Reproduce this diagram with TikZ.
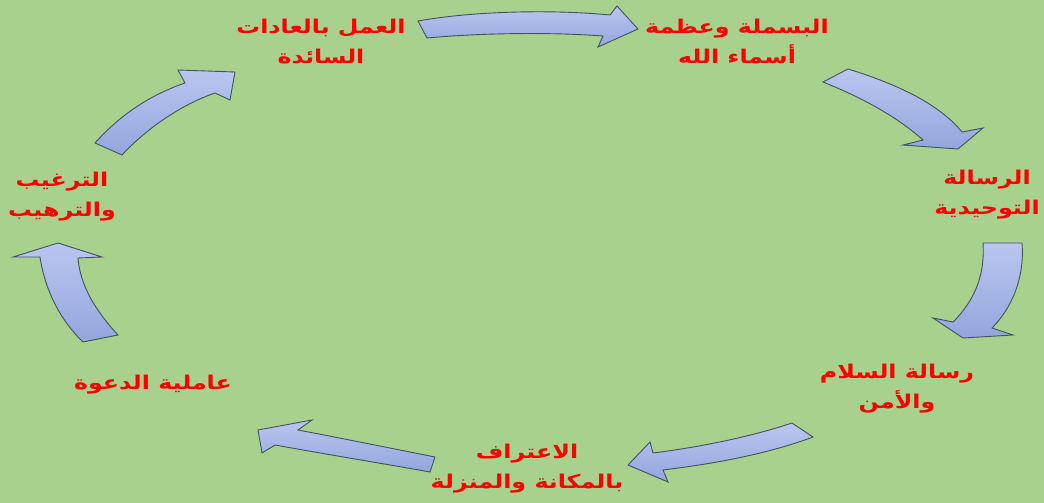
\documentclass[tikz,border=0pt]{standalone}
\usepackage{fontspec}
\newfontfamily\arabicfont[Script=Arabic,FakeStretch=1.25]{DejaVu Sans}
\TeXXeTstate=1
\newcommand{\artxt}[1]{\beginR #1\endR}
\definecolor{bggreen}{HTML}{A9D18E}
\definecolor{arrtop}{HTML}{B9C6EF}
\definecolor{arrbot}{HTML}{93A6DD}
\definecolor{arredge}{HTML}{46505E}
\tikzset{
  blockarrow/.style={draw=arredge, line width=0.9pt, line join=miter, top color=arrtop, bottom color=arrbot},
  lbl/.style={text=red, align=center, font=\arabicfont\bfseries\fontsize{19}{30}\selectfont, inner sep=0pt}
}
\begin{document}
\begin{tikzpicture}[x=1pt,y=-1pt]
\fill[bggreen] (0,0) rectangle (1044,503);
\useasboundingbox (0,0) rectangle (1044,503);
% arrows
\path[blockarrow] (418,21) .. controls (480,10) and (560,10) .. (610,15) -- (617,6) -- (638,29) -- (598,47) -- (603,36) .. controls (550,32) and (480,33) .. (427,38) -- cycle;
\path[blockarrow] (848,69) .. controls (900,85) and (940,105) .. (962,132) -- (983,128) -- (958,149) -- (903,145) -- (923,140) .. controls (895,115) and (860,97) .. (823,82) -- cycle;
\path[blockarrow] (983,243) -- (1022,243) .. controls (1025,280) and (1010,310) .. (992,328) -- (1013,335) -- (963,338) -- (933,318) -- (953,322) .. controls (975,300) and (985,275) .. (983,243) -- cycle;
\path[blockarrow] (792,423) .. controls (750,437) and (700,447) .. (653,453) -- (650,442) -- (628,465) -- (668,482) -- (663,470) .. controls (720,463) and (770,453) .. (813,437) -- cycle;
\path[blockarrow] (435,457) .. controls (390,448) and (340,438) .. (298,430) -- (312,420) -- (258,430) -- (262,453) -- (275,445) .. controls (330,455) and (380,463) .. (430,472) -- cycle;
\path[blockarrow] (83,342) -- (118,335) .. controls (95,310) and (80,285) .. (78,258) -- (102,257) -- (58,243) -- (13,257) -- (40,257) .. controls (45,290) and (60,320) .. (83,342) -- cycle;
\path[blockarrow] (95,143) .. controls (120,115) and (150,95) .. (185,83) -- (178,70) -- (235,72) -- (230,100) -- (215,93) .. controls (180,105) and (145,130) .. (122,155) -- cycle;
% labels
\node[lbl] (l1) at (321,42) {\artxt{العمل بالعادات}\\\artxt{السائدة}};
\node[lbl] (l2) at (737,42) {\artxt{البسملة وعظمة}\\\artxt{أسماء الله}};
\node[lbl] (l3) at (987,195) {\artxt{الرسالة}\\\artxt{التوحيدية}};
\node[lbl] (l4) at (897,389) {\artxt{رسالة السلام}\\\artxt{والأمن}};
\node[lbl] (l5) at (527,469) {\artxt{الاعتراف}\\\artxt{بالمكانة والمنزلة}};
\node[lbl] (l6) at (62,197) {\artxt{الترغيب}\\\artxt{والترهيب}};
\node[lbl] (l7) at (153,385) {\artxt{عاملية الدعوة}};
\end{tikzpicture}
\end{document}
